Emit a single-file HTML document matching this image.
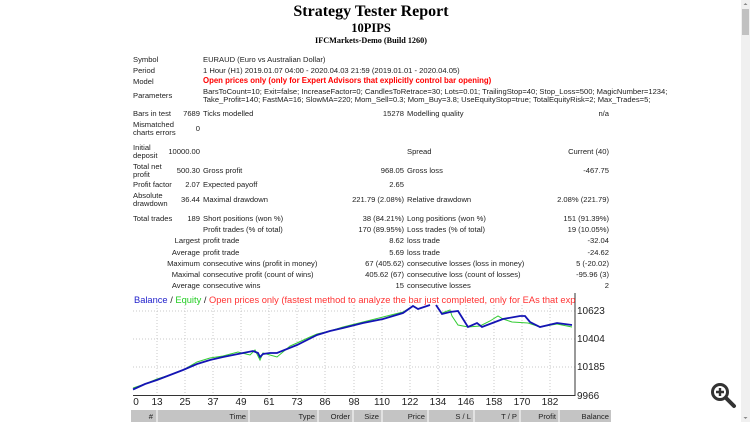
<!DOCTYPE html>
<html><head><meta charset="utf-8"><style>
body{margin:0;width:750px;height:422px;overflow:hidden;background:#fff;position:relative;font-family:"Liberation Sans",sans-serif;font-size:7.6px;color:#222}
div.t{position:absolute;white-space:nowrap;line-height:8px}
.r{transform:translateX(-100%)}
.h{position:absolute;font-family:"Liberation Serif",serif;font-weight:bold;text-align:center;width:750px;left:-4px;color:#000}
</style></head><body>
<div class="h" style="top:3px;font-size:16px">Strategy Tester Report</div>
<div class="h" style="top:21px;font-size:12.5px">10PIPS</div>
<div class="h" style="top:36px;font-size:8.2px">IFCMarkets-Demo (Build 1260)</div>

<div class="t" style="left:133px;top:56px">Symbol</div><div class="t" style="left:203px;top:56px">EURAUD (Euro vs Australian Dollar)</div>
<div class="t" style="left:133px;top:67px">Period</div><div class="t" style="left:203px;top:67px">1 Hour (H1) 2019.01.07 04:00 - 2020.04.03 21:59 (2019.01.01 - 2020.04.05)</div>
<div class="t" style="left:133px;top:78px">Model</div><div class="t" style="left:203px;top:77px;color:#f00;font-weight:bold;font-size:7.8px">Open prices only (only for Expert Advisors that explicitly control bar opening)</div>
<div class="t" style="left:133px;top:92px">Parameters</div><div class="t" style="left:203px;top:88px">BarsToCount=10; Exit=false; IncreaseFactor=0; CandlesToRetrace=30; Lots=0.01; TrailingStop=40; Stop_Loss=500; MagicNumber=1234;</div>
<div class="t" style="left:203px;top:96px">Take_Profit=140; FastMA=16; SlowMA=220; Mom_Sell=0.3; Mom_Buy=3.8; UseEquityStop=true; TotalEquityRisk=2; Max_Trades=5;</div>
<div class="t" style="left:133px;top:110px">Bars in test</div><div class="t r" style="left:200px;top:110px">7689</div><div class="t" style="left:203px;top:110px">Ticks modelled</div><div class="t r" style="left:404px;top:110px">15278</div><div class="t" style="left:407px;top:110px">Modelling quality</div><div class="t r" style="left:609px;top:110px">n/a</div>
<div class="t" style="left:133px;top:121px">Mismatched<br>charts errors</div><div class="t r" style="left:200px;top:125px">0</div>

<div class="t" style="left:133px;top:144px">Initial<br>deposit</div><div class="t r" style="left:200px;top:148px">10000.00</div><div class="t" style="left:407px;top:148px">Spread</div><div class="t r" style="left:609px;top:148px">Current (40)</div>
<div class="t" style="left:133px;top:163px">Total net<br>profit</div><div class="t r" style="left:200px;top:167px">500.30</div><div class="t" style="left:203px;top:167px">Gross profit</div><div class="t r" style="left:404px;top:167px">968.05</div><div class="t" style="left:407px;top:167px">Gross loss</div><div class="t r" style="left:609px;top:167px">-467.75</div>
<div class="t" style="left:133px;top:181px">Profit factor</div><div class="t r" style="left:200px;top:181px">2.07</div><div class="t" style="left:203px;top:181px">Expected payoff</div><div class="t r" style="left:404px;top:181px">2.65</div>
<div class="t" style="left:133px;top:192px">Absolute<br>drawdown</div><div class="t r" style="left:200px;top:196px">36.44</div><div class="t" style="left:203px;top:196px">Maximal drawdown</div><div class="t r" style="left:404px;top:196px">221.79 (2.08%)</div><div class="t" style="left:407px;top:196px">Relative drawdown</div><div class="t r" style="left:609px;top:196px">2.08% (221.79)</div>

<div class="t" style="left:133px;top:215px">Total trades</div><div class="t r" style="left:200px;top:215px">189</div><div class="t" style="left:203px;top:215px">Short positions (won %)</div><div class="t r" style="left:404px;top:215px">38 (84.21%)</div><div class="t" style="left:407px;top:215px">Long positions (won %)</div><div class="t r" style="left:609px;top:215px">151 (91.39%)</div>
<div class="t" style="left:203px;top:226px">Profit trades (% of total)</div><div class="t r" style="left:404px;top:226px">170 (89.95%)</div><div class="t" style="left:407px;top:226px">Loss trades (% of total)</div><div class="t r" style="left:609px;top:226px">19 (10.05%)</div>
<div class="t r" style="left:200px;top:237px">Largest</div><div class="t" style="left:203px;top:237px">profit trade</div><div class="t r" style="left:404px;top:237px">8.62</div><div class="t" style="left:407px;top:237px">loss trade</div><div class="t r" style="left:609px;top:237px">-32.04</div>
<div class="t r" style="left:200px;top:249px">Average</div><div class="t" style="left:203px;top:249px">profit trade</div><div class="t r" style="left:404px;top:249px">5.69</div><div class="t" style="left:407px;top:249px">loss trade</div><div class="t r" style="left:609px;top:249px">-24.62</div>
<div class="t r" style="left:200px;top:260px">Maximum</div><div class="t" style="left:203px;top:260px">consecutive wins (profit in money)</div><div class="t r" style="left:404px;top:260px">67 (405.62)</div><div class="t" style="left:407px;top:260px">consecutive losses (loss in money)</div><div class="t r" style="left:609px;top:260px">5 (-20.02)</div>
<div class="t r" style="left:200px;top:271px">Maximal</div><div class="t" style="left:203px;top:271px">consecutive profit (count of wins)</div><div class="t r" style="left:404px;top:271px">405.62 (67)</div><div class="t" style="left:407px;top:271px">consecutive loss (count of losses)</div><div class="t r" style="left:609px;top:271px">-95.96 (3)</div>
<div class="t r" style="left:200px;top:282px">Average</div><div class="t" style="left:203px;top:282px">consecutive wins</div><div class="t r" style="left:404px;top:282px">15</div><div class="t" style="left:407px;top:282px">consecutive losses</div><div class="t r" style="left:609px;top:282px">2</div>

<svg style="position:absolute;left:0;top:0" width="750" height="422" font-family="Liberation Sans,sans-serif">
<defs><clipPath id="c"><rect x="130" y="290" width="445" height="20"/></clipPath></defs>
<g stroke="#c8c8c8" stroke-dasharray="1,2" stroke-width="1">
<line x1="133" y1="311" x2="575" y2="311"/><line x1="133" y1="339" x2="575" y2="339"/><line x1="133" y1="367" x2="575" y2="367"/>
<line x1="157" y1="305" x2="157" y2="395"/><line x1="185" y1="305" x2="185" y2="395"/><line x1="213" y1="305" x2="213" y2="395"/><line x1="241" y1="305" x2="241" y2="395"/><line x1="269" y1="305" x2="269" y2="395"/><line x1="297" y1="305" x2="297" y2="395"/><line x1="325" y1="305" x2="325" y2="395"/><line x1="354" y1="305" x2="354" y2="395"/><line x1="382" y1="305" x2="382" y2="395"/><line x1="410" y1="305" x2="410" y2="395"/><line x1="438" y1="305" x2="438" y2="395"/><line x1="466" y1="305" x2="466" y2="395"/><line x1="494" y1="305" x2="494" y2="395"/><line x1="522" y1="305" x2="522" y2="395"/><line x1="550" y1="305" x2="550" y2="395"/>
</g>
<line x1="575" y1="293" x2="575" y2="396" stroke="#333"/>
<line x1="133" y1="395.5" x2="575" y2="395.5" stroke="#333"/>
<polyline fill="none" stroke="#3c3" stroke-width="1" points="133,388 145,384 157,379 170,375 183,370 197,362 210,358 223,356 238,352 250,355 255,350 260,360 263,353 270,355 277,357 290,346 297,343 310,337 317,334 330,331 343,327 363,322 383,317 403,312 413,306 418,309 430,305"/>
<polyline fill="none" stroke="#3c3" points="442,313 450,310 452,316 458,325 468,327 480,326 490,321 498,316 503,319 512,322 528,323 540,327 557,324 572,327"/>
<polyline fill="none" stroke="#1414b4" stroke-width="1.8" points="133,389.5 145,384 157,380 170,375 183,370 197,364 210,360 223,357 243,353 253,351 258,353 260,357 263,354 270,353 277,353 297,345 317,335 330,331 343,328 363,323 383,319 403,313 413,306 418,309 430,305"/>
<polyline fill="none" stroke="#1414b4" stroke-width="1.8" points="436,305 442,314 450,312 458,311 468,327 477,323 482,327 495,322 503,319 520,316 525,316 530,322 540,327 557,323 572,325"/>
<text x="134" y="303" font-size="9.3" fill="#2222cc" clip-path="url(#c)">Balance <tspan fill="#222">/</tspan> <tspan fill="#2c2">Equity</tspan> <tspan fill="#222">/</tspan> <tspan fill="#f33">Open prices only (fastest method to analyze the bar just completed, only for EAs that explicitly control b</tspan></text>
<g font-size="10" fill="#222">
<text x="577" y="314">10623</text><text x="577" y="342">10404</text><text x="577" y="370">10185</text><text x="577" y="399">9966</text>
<g text-anchor="middle"><text x="136" y="405">0</text><text x="157" y="405">13</text><text x="185" y="405">25</text><text x="213" y="405">37</text><text x="241" y="405">49</text><text x="269" y="405">61</text><text x="297" y="405">73</text><text x="325" y="405">86</text><text x="354" y="405">98</text><text x="382" y="405">110</text><text x="410" y="405">122</text><text x="438" y="405">134</text><text x="466" y="405">146</text><text x="494" y="405">158</text><text x="522" y="405">170</text><text x="550" y="405">182</text></g>
</g>
<rect x="131" y="410" width="480" height="12" fill="#c4c4c4"/>
<g stroke="#fff"><line x1="157" y1="410" x2="157" y2="422"/><line x1="249" y1="410" x2="249" y2="422"/><line x1="318" y1="410" x2="318" y2="422"/><line x1="353" y1="410" x2="353" y2="422"/><line x1="382" y1="410" x2="382" y2="422"/><line x1="428" y1="410" x2="428" y2="422"/><line x1="474" y1="410" x2="474" y2="422"/><line x1="520" y1="410" x2="520" y2="422"/><line x1="559" y1="410" x2="559" y2="422"/></g>
<g font-size="7.6" fill="#222" text-anchor="end"><text x="153" y="419">#</text><text x="246" y="419">Time</text><text x="315" y="419">Type</text><text x="350" y="419">Order</text><text x="379" y="419">Size</text><text x="425" y="419">Price</text><text x="471" y="419">S / L</text><text x="517" y="419">T / P</text><text x="556" y="419">Profit</text><text x="609" y="419">Balance</text></g>
<rect x="741" y="0" width="9" height="422" fill="#f0f0f0"/>
<rect x="742" y="9" width="7" height="26" fill="#c1c1c1"/>
<path d="M743.5 5 L745.5 3 L747.5 5Z" fill="#888"/><path d="M743.5 417 L745.5 419 L747.5 417Z" fill="#888"/>
<circle cx="720" cy="392" r="7.5" fill="none" stroke="#333" stroke-width="3"/>
<line x1="726" y1="398" x2="734" y2="406" stroke="#333" stroke-width="4" stroke-linecap="round"/>
<path d="M720 388v8M716 392h8" stroke="#333" stroke-width="2.4"/>
</svg>
</body></html>
